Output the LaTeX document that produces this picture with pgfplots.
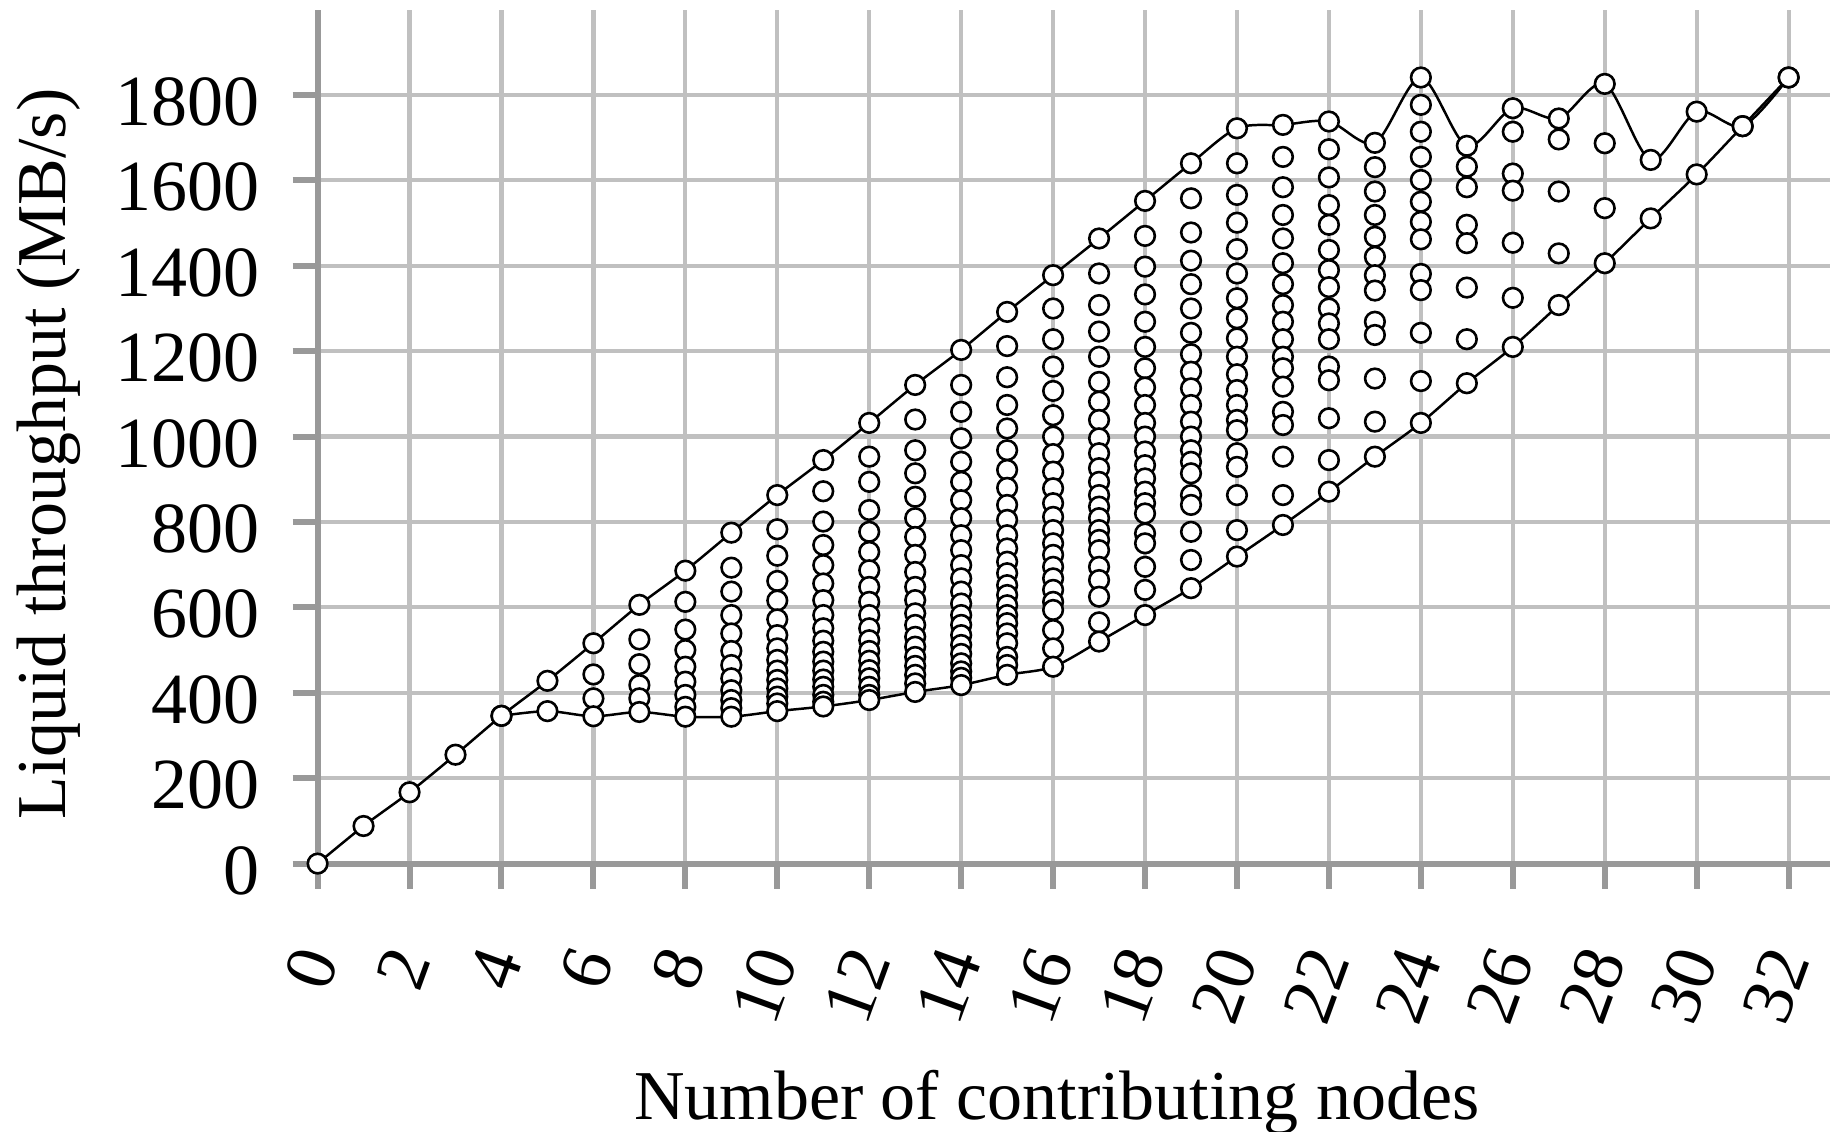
\documentclass[border=0pt]{standalone}
\usepackage{fontspec}
\setmainfont{Liberation Serif}
\usepackage{pgfplots}
\usepackage{pgfplotstable}
\pgfplotsset{compat=1.18}
\definecolor{gridc}{HTML}{C0C0C0}
\definecolor{axc}{HTML}{999999}

\pgfplotstableread{
x y
6 443
6 387
7 525
7 467
7 418
7 387
8 613
8 548
8 500
8 461
8 426
8 395
8 367
9 693
9 637
9 582
9 539
9 498
9 465
9 434
9 406
9 383
9 364
10 783
10 721
10 662
10 616
10 572
10 535
10 504
10 477
10 452
10 430
10 410
10 391
10 375
11 872
11 801
11 746
11 699
11 656
11 617
11 582
11 551
11 522
11 496
11 473
11 452
11 431
11 414
11 395
11 379
12 953
12 894
12 828
12 777
12 730
12 687
12 648
12 613
12 582
12 551
12 523
12 498
12 475
12 453
12 434
12 414
12 395
13 1040
13 968
13 914
13 859
13 809
13 765
13 723
13 683
13 648
13 617
13 586
13 559
13 531
13 508
13 484
13 463
13 442
13 422
14 1121
14 1058
14 996
14 941
14 894
14 851
14 809
14 769
14 734
14 699
14 668
14 637
14 609
14 582
14 559
14 535
14 512
14 491
14 469
14 450
14 435
15 1212
15 1139
15 1074
15 1019
15 968
15 922
15 880
15 840
15 805
15 769
15 738
15 707
15 680
15 652
15 629
15 605
15 582
15 563
15 539
15 516
15 484
15 465
16 1300
16 1228
16 1164
16 1107
16 1050
16 1000
16 959
16 918
16 879
16 844
16 812
16 781
16 750
16 723
16 695
16 668
16 641
16 613
16 594
16 547
16 504
17 1382
17 1308
17 1246
17 1187
17 1128
17 1082
17 1039
17 996
17 961
17 926
17 894
17 863
17 836
17 809
17 781
17 758
17 734
17 695
17 664
17 625
17 565
18 1470
18 1398
18 1333
18 1269
18 1210
18 1160
18 1115
18 1074
18 1032
18 1000
18 965
18 933
18 902
18 871
18 844
18 820
18 773
18 750
18 695
18 641
19 1558
19 1478
19 1412
19 1357
19 1300
19 1243
19 1193
19 1152
19 1113
19 1074
19 1035
19 1000
19 968
19 941
19 914
19 863
19 840
19 777
19 711
20 1640
20 1566
20 1501
20 1439
20 1382
20 1324
20 1277
20 1230
20 1187
20 1146
20 1109
20 1074
20 1039
20 1015
20 961
20 929
20 863
20 781
21 1655
21 1584
21 1519
21 1464
21 1406
21 1357
21 1308
21 1269
21 1228
21 1187
21 1160
21 1117
21 1058
21 1027
21 953
21 863
22 1673
22 1607
22 1542
22 1496
22 1437
22 1390
22 1350
22 1300
22 1265
22 1228
22 1164
22 1132
22 1043
22 945
23 1631
23 1574
23 1519
23 1468
23 1421
23 1378
23 1342
23 1269
23 1238
23 1136
23 1035
24 1777
24 1714
24 1655
24 1601
24 1550
24 1503
24 1462
24 1381
24 1343
24 1243
24 1130
25 1632
25 1584
25 1496
25 1453
25 1349
25 1228
26 1714
26 1616
26 1576
26 1454
26 1325
27 1696
27 1574
27 1429
28 1687
28 1535
}\datainner

\pgfplotstableread{
x y
0 0
1 88
2 167
3 255
4 346
5 428
6 516
7 606
8 686
9 775
10 863
11 945
12 1032
13 1121
14 1203
15 1292
16 1378
17 1464
18 1552
19 1640
20 1722
21 1730
22 1738
23 1688
24 1841
25 1681
26 1769
27 1745
28 1826
29 1648
30 1761
31 1727
32 1841
}\dataupper

\pgfplotstableread{
x y
4 346
5 357
6 345
7 355
8 344
9 344
10 357
11 368
12 383
13 402
14 418
15 442
16 461
17 520
18 582
19 645
20 719
21 793
22 871
23 953
24 1032
25 1125
26 1210
27 1308
28 1406
29 1511
30 1614
31 1727
32 1841
}\datalower

\begin{document}
\begin{tikzpicture}
\begin{axis}[
  scale only axis, width=378.1pt, height=213.5pt,
  xmin=0, xmax=32.9, ymin=0, ymax=2000,
  axis x line*=bottom, axis y line*=left,
  axis line style={axc, line width=1.5pt, -},
  xtick={2,4,...,32}, ytick={200,400,...,1800},
  extra x ticks={0}, extra y ticks={0},
  extra tick style={grid=none},
  grid=major, major grid style={gridc, line width=1.05pt},
  tick align=outside, major tick length=6.25pt,
  tick style={axc, line width=1.5pt},
  /pgf/number format/assume math mode=true,
  /pgf/number format/1000 sep={},
  ticklabel style={font=\fontsize{18}{20}\selectfont, text=black},
  yticklabel style={inner sep=0pt, xshift=-7.95pt, yshift=-1.75pt},
  xticklabel style={inner sep=0pt, yshift=-15.5pt, rotate=70, anchor=east},
  xlabel={Number of contributing nodes},
  ylabel={Liquid throughput (MB/s)},
  label style={font=\fontsize{17.5}{20}\selectfont},
  xlabel style={at={(axis description cs:0.4888,-0.2998)}, anchor=base},
  ylabel style={at={(axis description cs:-0.1666,0.4794)}, anchor=base},
  clip=false,
]
\coordinate (sw) at (rel axis cs:0,0);
\coordinate (ne) at (rel axis cs:1,1);
\addplot[only marks, mark=*, mark size=2.45pt,
  mark options={fill=white, draw=black, line width=0.65pt}] table[x=x,y=y] {\datainner};
\addplot[black, line width=0.62pt, smooth, tension=0.5, mark=*, mark size=2.45pt,
  mark options={fill=white, draw=black, line width=0.65pt}] table[x=x,y=y] {\dataupper};
\addplot[black, line width=0.62pt, smooth, tension=0.5, mark=*, mark size=2.45pt,
  mark options={fill=white, draw=black, line width=0.65pt}] table[x=x,y=y] {\datalower};
\end{axis}
\pgfresetboundingbox
\useasboundingbox ([shift={(-79.4pt,-67.1pt)}]sw) rectangle ([shift={(1.75pt,2.4pt)}]ne);
\end{tikzpicture}
\end{document}
